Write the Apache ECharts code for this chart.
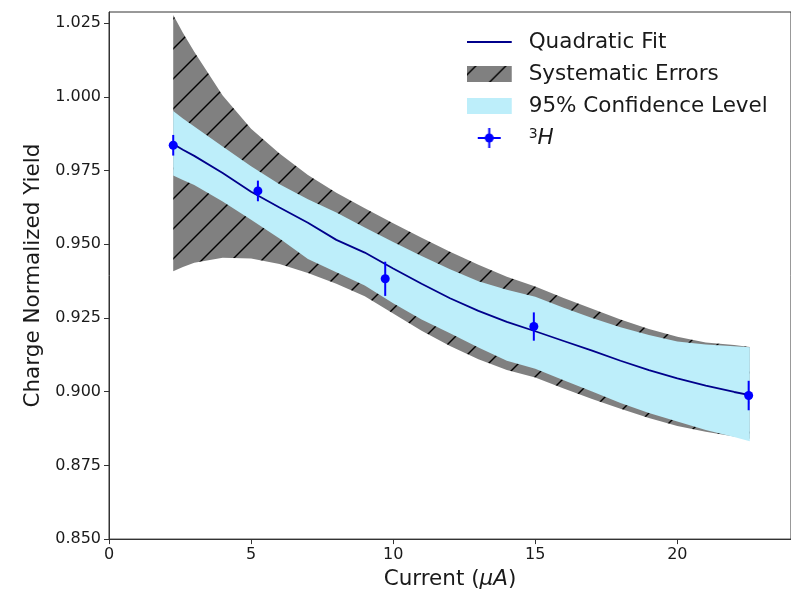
<!DOCTYPE html>
<html><head><meta charset="utf-8">
<script src="https://cdn.jsdelivr.net/npm/echarts@6/dist/echarts.min.js"></script>
<style>html,body{margin:0;padding:0;background:#fff}#c{width:791px;height:595px}</style>
</head><body><div id="c"></div>
<script>
// ---- data ----
const gridX   = [2.26, 2.6, 3, 4, 5, 6, 7, 8, 9, 10, 11, 12, 13, 14, 15, 16, 17, 18, 19, 20, 21, 22, 22.55];
const fitY    = [0.9840,0.9821,0.9800,0.9742,0.9678,0.9625,0.9573,0.9515,0.9472,0.9418,0.9366,0.9317,0.9274,0.9237,0.9205,0.9172,0.9139,0.9105,0.9073,0.9045,0.9021,0.8999,0.8988];
const ciUpper = [0.9952,0.9927,0.9900,0.9832,0.9765,0.9704,0.9653,0.9608,0.9557,0.9508,0.9460,0.9415,0.9375,0.9346,0.9322,0.9285,0.9250,0.9219,0.9192,0.9170,0.9160,0.9154,0.9151];
const ciLower = [0.9733,0.9718,0.9701,0.9645,0.9583,0.9520,0.9450,0.9405,0.9360,0.9300,0.9245,0.9198,0.9150,0.9105,0.9078,0.9039,0.9001,0.8962,0.8928,0.8899,0.8870,0.8846,0.8832];
const sysUpper= [1.0278,1.0218,1.0153,1.0005,0.9892,0.9808,0.9735,0.9675,0.9622,0.9571,0.9522,0.9475,0.9431,0.9390,0.9357,0.9318,0.9281,0.9245,0.9213,0.9186,0.9167,0.9158,0.9152];
const sysLower= [0.9409,0.9423,0.9437,0.9454,0.9452,0.9433,0.9403,0.9366,0.9324,0.9265,0.9207,0.9155,0.9110,0.9074,0.9048,0.9011,0.8975,0.8942,0.8911,0.8884,0.8864,0.8848,0.8840];
const pointX  = [2.26, 5.24, 9.72, 14.95, 22.51];
const pointY  = [0.9836, 0.9681, 0.9383, 0.9221, 0.8987];
const pointErr= [0.0035, 0.0035, 0.0058, 0.0048, 0.0050];
const xTicks  = [0, 5, 10, 15, 20];
const yTicks  = [0.850, 0.875, 0.900, 0.925, 0.950, 0.975, 1.000, 1.025];
const seriesNames = ['Quadratic Fit', 'Systematic Errors', '95% Confidence Level', '\u00b3H'];

// ---- styling helpers ----
const FONT = 'DejaVu Sans';
const GREY = '#808080', BLUE_BAND = '#bdeefa', FIT = '#00008b', PT = '#0000ff';

const tile = document.createElement('canvas'); tile.width = 30; tile.height = 30;
(function(){
  const t = tile.getContext('2d');
  t.fillStyle = GREY; t.fillRect(0,0,30,30);
  t.strokeStyle = '#000'; t.lineWidth = 1.4;
  for (const c of [-18, 12, 42, 72]) { t.beginPath(); t.moveTo(-5, c+5); t.lineTo(c+5, -5); t.stroke(); }
})();

function icon(draw){
  const c = document.createElement('canvas'); c.width = 57; c.height = 22;
  draw(c.getContext('2d')); return 'image://' + c.toDataURL();
}
const iconFit = icon(g => { g.strokeStyle = FIT; g.lineWidth = 2; g.beginPath(); g.moveTo(0,11); g.lineTo(45,11); g.stroke(); });
const iconSys = icon(g => { g.fillStyle = g.createPattern(tile, 'repeat'); g.fillRect(0,3,45,16); });
const iconCI  = icon(g => { g.fillStyle = BLUE_BAND; g.fillRect(0,3,45,16); });
const iconPt  = icon(g => {
  g.strokeStyle = PT; g.lineWidth = 2;
  g.beginPath(); g.moveTo(11,11); g.lineTo(34,11); g.stroke();
  g.beginPath(); g.moveTo(22.5,1); g.lineTo(22.5,21); g.stroke();
  g.fillStyle = PT; g.beginPath(); g.arc(22.5,11,4.5,0,Math.PI*2); g.fill();
});

function band(lo, hi, fill){
  return function(params, api){
    if (params.dataIndex !== 0) return;
    const pts = [];
    for (let i = 0; i < gridX.length; i++) pts.push(api.coord([gridX[i], hi[i]]));
    for (let i = gridX.length - 1; i >= 0; i--) pts.push(api.coord([gridX[i], lo[i]]));
    return { type: 'polygon', shape: { points: pts }, style: { fill: fill, stroke: null } };
  };
}

const chart = echarts.init(document.getElementById('c'), null, { renderer: 'canvas' });
chart.setOption({
  animation: false,
  textStyle: { fontFamily: FONT },
  grid: { left: 109, top: 12, width: 684, height: 532, show: true, borderColor: '#333', borderWidth: 1, containLabel: false },
  xAxis: {
    type: 'value', min: 0, max: 24,
    name: 'Current ({i|\u03bcA})', nameLocation: 'middle', nameGap: 25,
    nameTextStyle: { fontSize: 21.5, color: '#1a1a1a', fontFamily: FONT, rich: { i: { fontSize: 21.5, fontStyle: 'italic', fontFamily: FONT, color: '#1a1a1a' } } },
    axisLine: { show: true, lineStyle: { color: '#333', width: 1 } },
    axisTick: { show: true, inside: false, length: 5, customValues: xTicks, lineStyle: { color: '#333' } },
    axisLabel: { customValues: xTicks, fontSize: 16, color: '#1a1a1a', margin: 8, fontFamily: FONT },
    splitLine: { show: false }
  },
  yAxis: {
    type: 'value', min: 0.85, max: 1.0288,
    name: 'Charge Normalized Yield', nameLocation: 'middle', nameGap: 60,
    nameTextStyle: { fontSize: 21.5, color: '#1a1a1a', fontFamily: FONT },
    axisLine: { show: true, lineStyle: { color: '#333', width: 1 } },
    axisTick: { show: true, inside: false, length: 5, customValues: yTicks, lineStyle: { color: '#333' } },
    axisLabel: { customValues: yTicks, fontSize: 16, color: '#1a1a1a', margin: 8, fontFamily: FONT, formatter: v => v.toFixed(3) },
    splitLine: { show: false }
  },
  legend: {
    orient: 'vertical', left: 466.7, top: 31, padding: 0, itemGap: 10,
    itemWidth: 57, itemHeight: 22, selectedMode: false,
    textStyle: { fontSize: 21.5, color: '#1a1a1a', fontFamily: FONT,
      rich: { sup: { fontSize: 14, color: '#1a1a1a', verticalAlign: 'top', fontFamily: FONT },
              it: { fontSize: 21.5, fontStyle: 'italic', color: '#1a1a1a', fontFamily: FONT } } },
    formatter: n => n === '\u00b3H' ? '{sup|3}{it|H}' : n,
    data: [
      { name: seriesNames[0], icon: iconFit },
      { name: seriesNames[1], icon: iconSys },
      { name: seriesNames[2], icon: iconCI },
      { name: seriesNames[3], icon: iconPt }
    ]
  },
  series: [
    { name: seriesNames[1], type: 'custom', renderItem: band(sysLower, sysUpper, { image: tile, repeat: 'repeat' }),
      data: gridX.map((x, i) => [x, sysLower[i], sysUpper[i]]), encode: { x: 0, y: [1, 2] }, itemStyle: { color: GREY }, z: 1 },
    { name: seriesNames[2], type: 'custom', renderItem: band(ciLower, ciUpper, BLUE_BAND),
      data: gridX.map((x, i) => [x, ciLower[i], ciUpper[i]]), encode: { x: 0, y: [1, 2] }, itemStyle: { color: BLUE_BAND }, z: 2 },
    { name: seriesNames[0], type: 'line', showSymbol: false, symbol: 'none',
      data: gridX.map((x, i) => [x, fitY[i]]), lineStyle: { color: FIT, width: 1.8 }, itemStyle: { color: FIT }, z: 3 },
    { name: seriesNames[3], type: 'custom', z: 4, itemStyle: { color: PT },
      data: pointX.map((x, i) => [x, pointY[i], pointErr[i]]), encode: { x: 0, y: 1 },
      renderItem: (params, api) => {
        const x = api.value(0), y = api.value(1), e = api.value(2);
        const p = api.coord([x, y]), a = api.coord([x, y + e]), b = api.coord([x, y - e]);
        return { type: 'group', children: [
          { type: 'line', shape: { x1: p[0], y1: a[1], x2: p[0], y2: b[1] }, style: { stroke: PT, lineWidth: 2 } },
          { type: 'circle', shape: { cx: p[0], cy: p[1], r: 4.5 }, style: { fill: PT } }
        ] };
      } }
  ]
});
</script></body></html>
